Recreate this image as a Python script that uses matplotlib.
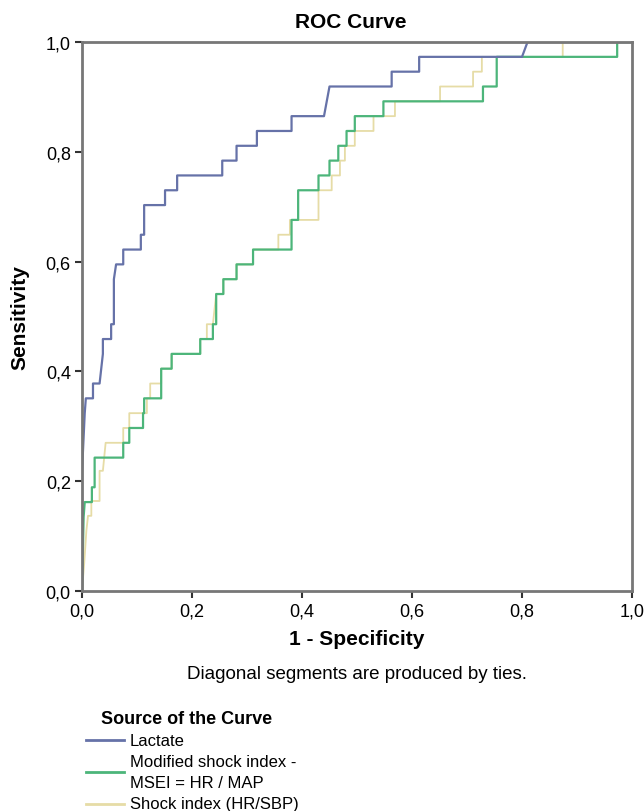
import matplotlib
matplotlib.use("Agg")
import matplotlib.pyplot as plt
from matplotlib.lines import Line2D

plt.rcParams['font.family'] = ['Liberation Sans', 'DejaVu Sans']

# ROC points (1 - specificity, sensitivity)
lactate_fpr = [0, 0, 0.005, 0.007, 0.02, 0.02, 0.032, 0.038, 0.038, 0.053, 0.053, 0.058, 0.058,
               0.062, 0.075, 0.075, 0.107, 0.107, 0.113, 0.113, 0.151, 0.151, 0.173, 0.173,
               0.255, 0.255, 0.281, 0.281, 0.318, 0.318, 0.381, 0.381, 0.44, 0.45, 0.563, 0.563,
               0.613, 0.613, 0.80, 0.81, 1.0]
lactate_tpr = [0, 0.216, 0.324, 0.351, 0.351, 0.378, 0.378, 0.432, 0.459, 0.459, 0.486, 0.486, 0.568,
               0.595, 0.595, 0.622, 0.622, 0.649, 0.649, 0.703, 0.703, 0.730, 0.730, 0.757,
               0.757, 0.784, 0.784, 0.811, 0.811, 0.838, 0.838, 0.865, 0.865, 0.919, 0.919, 0.946,
               0.946, 0.973, 0.973, 1.0, 1.0]

msei_fpr = [0, 0.003, 0.005, 0.018, 0.018, 0.023, 0.023, 0.075, 0.075, 0.086, 0.086, 0.111, 0.111,
            0.113, 0.113, 0.144, 0.144, 0.163, 0.163, 0.215, 0.215, 0.238, 0.238, 0.244, 0.244,
            0.257, 0.257, 0.281, 0.281, 0.311, 0.311, 0.381, 0.381, 0.393, 0.393, 0.43, 0.43,
            0.45, 0.45, 0.466, 0.466, 0.481, 0.481, 0.496, 0.496, 0.548, 0.548, 0.729, 0.729,
            0.754, 0.754, 0.973, 0.973, 1.0]
msei_tpr = [0, 0.135, 0.162, 0.162, 0.189, 0.189, 0.243, 0.243, 0.270, 0.270, 0.297, 0.297, 0.324,
            0.324, 0.351, 0.351, 0.405, 0.405, 0.432, 0.432, 0.459, 0.459, 0.486, 0.486, 0.541,
            0.541, 0.568, 0.568, 0.595, 0.595, 0.622, 0.622, 0.676, 0.676, 0.730, 0.730, 0.757,
            0.757, 0.784, 0.784, 0.811, 0.811, 0.838, 0.838, 0.865, 0.865, 0.892, 0.892, 0.919,
            0.919, 0.973, 0.973, 1.0, 1.0]

si_fpr = [0, 0.004, 0.008, 0.011, 0.017, 0.017, 0.032, 0.032, 0.038, 0.043, 0.075, 0.075, 0.086,
          0.086, 0.118, 0.118, 0.124, 0.124, 0.144, 0.144, 0.163, 0.163, 0.215, 0.215, 0.227,
          0.227, 0.238, 0.244, 0.257, 0.257, 0.281, 0.281, 0.311, 0.311, 0.357, 0.357, 0.378,
          0.378, 0.43, 0.43, 0.454, 0.454, 0.469, 0.469, 0.478, 0.478, 0.496, 0.496, 0.53,
          0.53, 0.569, 0.569, 0.651, 0.651, 0.711, 0.711, 0.727, 0.727, 0.874, 0.874, 1.0]
si_tpr = [0, 0.05, 0.11, 0.137, 0.137, 0.164, 0.164, 0.219, 0.219, 0.270, 0.270, 0.297, 0.297,
          0.324, 0.324, 0.351, 0.351, 0.378, 0.378, 0.405, 0.405, 0.432, 0.432, 0.459, 0.459,
          0.486, 0.486, 0.541, 0.541, 0.568, 0.568, 0.595, 0.595, 0.622, 0.622, 0.649, 0.649,
          0.676, 0.676, 0.730, 0.730, 0.757, 0.757, 0.784, 0.784, 0.811, 0.811, 0.838, 0.838,
          0.865, 0.865, 0.892, 0.892, 0.919, 0.919, 0.946, 0.946, 0.973, 0.973, 1.0, 1.0]

ticks = [0, 0.2, 0.4, 0.6, 0.8, 1.0]
tick_labels = ["0,0", "0,2", "0,4", "0,6", "0,8", "1,0"]

c_lact = "#6672a8"
c_msei = "#4cb57a"
c_si = "#e6dca6"

fig = plt.figure(figsize=(6.44, 8.12), dpi=100)
ax = fig.add_axes([0.1273, 0.2709, 0.8541, 0.6761])

ax.plot(si_fpr, si_tpr, color=c_si, lw=1.3)
ax.plot(msei_fpr, msei_tpr, color=c_msei, lw=1.6)
ax.plot(lactate_fpr, lactate_tpr, color=c_lact, lw=1.6)

ax.set_xlim(0, 1)
ax.set_ylim(0, 1)
ax.set_xticks(ticks)
ax.set_xticklabels(tick_labels)
ax.set_yticks(ticks)
ax.set_yticklabels(tick_labels)
ax.tick_params(direction="out", length=5, width=1.5, color="#333333", labelsize=13, pad=3)
for s in ax.spines.values():
    s.set_color("#777777")
    s.set_linewidth(2)

ax.set_xlabel("1 - Specificity", fontsize=15, fontweight="bold", labelpad=7)
ax.set_ylabel("Sensitivity", fontsize=15, fontweight="bold", labelpad=12)

fig.text(351 / 644, 1 - 22 / 812, "ROC Curve", ha="center", va="center",
         fontsize=15, fontweight="bold")
fig.text(0.5545, 1 - 675 / 812, "Diagonal segments are produced by ties.",
         ha="center", va="center", fontsize=13.5)

# legend drawn by hand below the plot
fig.text(101 / 644, 1 - 720 / 812, "Source of the Curve", ha="left", va="center",
         fontsize=13, fontweight="bold")
fig.add_artist(Line2D([86 / 644, 124 / 644], [1 - 741 / 812] * 2, color=c_lact, lw=2))
fig.add_artist(Line2D([86 / 644, 124 / 644], [1 - 773 / 812] * 2, color=c_msei, lw=2))
fig.add_artist(Line2D([86 / 644, 124 / 644], [1 - 805 / 812] * 2, color=c_si, lw=2))
for yy, txt in [(742, "Lactate"), (763, "Modified shock index -"),
                (784, "MSEI = HR / MAP"), (805, "Shock index (HR/SBP)")]:
    fig.text(130 / 644, 1 - yy / 812, txt, ha="left", va="center", fontsize=12)

fig.savefig("out.png", dpi=100)
